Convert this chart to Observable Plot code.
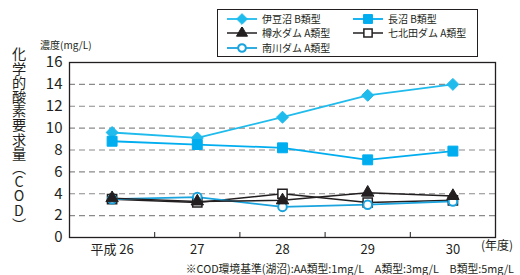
<!DOCTYPE html>
<html><head><meta charset="utf-8">
<script src="https://cdn.jsdelivr.net/npm/d3@7"></script>
<script src="https://cdn.jsdelivr.net/npm/@observablehq/plot@0.6"></script>
<style>
body{margin:0;background:#fff;}
#wrap{position:relative;width:520px;height:275px;font-family:"Noto Sans CJK JP","Noto Sans",sans-serif;color:#231f20;}
#wrap .abs{position:absolute;white-space:nowrap;}
#ylab{left:10px;top:47px;writing-mode:vertical-rl;text-orientation:upright;font-size:14.2px;line-height:18px;letter-spacing:0;}
#unit{left:40px;top:39px;font-size:10px;line-height:12px;}
#nendo{left:481px;top:238px;font-size:12px;line-height:14px;}
#cap{right:6px;top:262px;font-size:10.8px;line-height:12px;}
#legend{left:217px;top:9px;width:261px;height:48px;border:1px solid #231f20;box-sizing:border-box;}
#legend .it{position:absolute;display:flex;align-items:center;font-size:10px;height:14px;line-height:14px;}
#legend svg{margin-right:5px;}
</style></head>
<body><div id="wrap"></div>
<script>
const years = ["平成 26", "27", "28", "29", "30"];
const seriesNames = ["伊豆沼 B類型", "長沼 B類型", "樽水ダム A類型", "七北田ダム A類型", "南川ダム A類型"];
const izunuma = [9.6, 9.1, 11.0, 13.0, 14.0];
const naganuma = [8.8, 8.5, 8.2, 7.1, 7.9];
const tarumizu = [3.6, 3.3, 3.4, 4.1, 3.8];
const nanakita = [3.5, 3.2, 4.0, 3.2, 3.4];
const minamikawa = [3.5, 3.7, 2.8, 3.0, 3.3];
const yTicks = [0, 2, 4, 6, 8, 10, 12, 14, 16];
const gridTicks = [2, 4, 6, 8, 10, 12, 14];

const styles = [
  {values: izunuma, color: "#1fbbec", symbol: "diamond2", fill: "#1fbbec", r: 5.4, sw: 1, lw: 1.8},
  {values: naganuma, color: "#00adef", symbol: "square", fill: "#00adef", r: 5.6, sw: 1, lw: 1.8},
  {values: nanakita, color: "#231f20", symbol: "square", fill: "#fff", r: 5.2, sw: 1.5, lw: 1.5},
  {values: minamikawa, color: "#1aa3dd", symbol: "circle", fill: "#fff", r: 4.3, sw: 2, lw: 1.8},
  {values: tarumizu, color: "#231f20", symbol: "triangle", fill: "#231f20", r: 4.6, sw: 1, lw: 1.5}
];
const nameOf = new Map([[izunuma, seriesNames[0]], [naganuma, seriesNames[1]], [tarumizu, seriesNames[2]], [nanakita, seriesNames[3]], [minamikawa, seriesNames[4]]]);

const lineMarks = [], dotMarks = [];
for (const s of styles) {
  const data = s.values.map((v, i) => ({i, v}));
  lineMarks.push(Plot.line(data, {x: "i", y: "v", stroke: s.color, strokeWidth: s.lw}));
  dotMarks.push(Plot.dot(data, {x: "i", y: "v", symbol: s.symbol, r: s.r, fill: s.fill, stroke: s.color, strokeWidth: s.sw}));
}
const idx = years.map((d, i) => i);
const mids = idx.slice(0, -1).map(i => i + 0.5);

const chart = Plot.plot({
  width: 520, height: 275,
  marginLeft: 69, marginRight: 25, marginTop: 62, marginBottom: 38,
  style: {fontFamily: '"Noto Sans CJK JP","Noto Sans",sans-serif', color: "#231f20", background: "transparent"},
  x: {type: "linear", domain: [-0.5, years.length - 0.5]},
  y: {domain: [0, 16]},
  marks: [
    Plot.gridY(gridTicks, {stroke: "#8a8a8a", strokeOpacity: 1, strokeWidth: 1.2, strokeDasharray: "6,4"}),
    Plot.axisY({ticks: yTicks, tickSize: 0, tickPadding: 7, fontSize: 15, label: null}),
    Plot.axisX({ticks: mids, tickSize: -5, tickFormat: () => "", label: null}),
    Plot.axisX({ticks: idx, tickSize: 0, tickPadding: 7, fontSize: 13, tickFormat: i => years[i], label: null}),
    ...lineMarks,
    ...dotMarks,
    Plot.frame({stroke: "#231f20", strokeWidth: 1.3})
  ]
});
const wrap = document.getElementById("wrap");
chart.style.position = "absolute"; chart.style.left = "0"; chart.style.top = "0";
wrap.appendChild(chart);

function addText(id, txt) {
  const d = document.createElement("div"); d.className = "abs"; d.id = id; d.textContent = txt; wrap.appendChild(d);
}
addText("ylab", "化学的酸素要求量（COD）");
addText("unit", "濃度(mg/L)");
addText("nendo", "(年度)");
addText("cap", "※COD環境基準(湖沼):AA類型:1mg/L　A類型:3mg/L　B類型:5mg/L");

// legend
const leg = document.createElement("div"); leg.id = "legend"; leg.className = "abs"; wrap.appendChild(leg);
const legOrder = [izunuma, naganuma, tarumizu, nanakita, minamikawa];
const legPos = [[9, 1.5], [135, 1.5], [9, 16], [135, 16], [9, 30.5]];
legOrder.forEach((arr, k) => {
  const s = styles.find(t => t.values === arr);
  const it = document.createElement("div"); it.className = "it";
  it.style.left = legPos[k][0] + "px"; it.style.top = legPos[k][1] + "px";
  const svg = d3.create("svg").attr("width", 30).attr("height", 12).style("display", "block");
  svg.append("line").attr("x1", 0).attr("x2", 30).attr("y1", 6).attr("y2", 6).attr("stroke", s.color).attr("stroke-width", s.lw);
  const symMap = {diamond2: d3.symbolDiamond2, square: d3.symbolSquare, circle: d3.symbolCircle, triangle: d3.symbolTriangle};
  svg.append("path").attr("transform", "translate(15,6)")
    .attr("d", d3.symbol(symMap[s.symbol], Math.PI * s.r * s.r * 0.8)())
    .attr("fill", s.fill).attr("stroke", s.color).attr("stroke-width", s.sw);
  it.appendChild(svg.node());
  const sp = document.createElement("span"); sp.textContent = nameOf.get(arr); it.appendChild(sp);
  leg.appendChild(it);
});
</script></body></html>
